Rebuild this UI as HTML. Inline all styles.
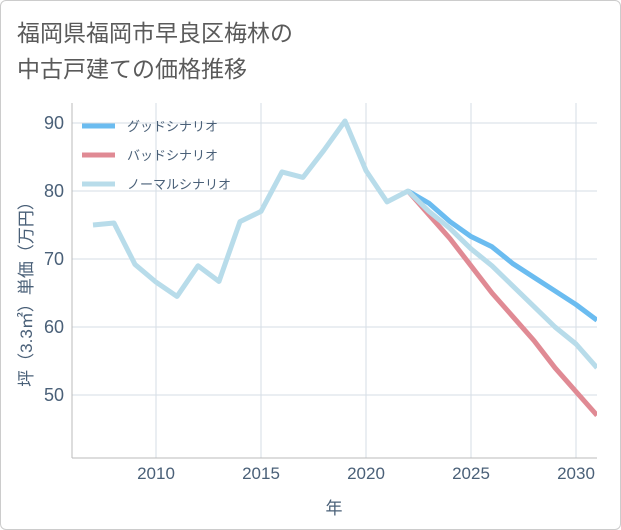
<!DOCTYPE html>
<html><head><meta charset="utf-8"><style>
body{margin:0;background:#fff;font-family:"Liberation Sans","Noto Sans CJK JP",sans-serif;}
#wrap{position:relative;width:619px;height:528px;border:1px solid #ccc;border-radius:6px;overflow:hidden;}
#title{position:absolute;left:16px;top:14px;font-size:23px;line-height:36px;color:#5a5a5a;}
svg text{font-family:"Liberation Sans","Noto Sans CJK JP",sans-serif;}
</style></head><body>
<div id="wrap">
<div id="title">福岡県福岡市早良区梅林の<br>中古戸建ての価格推移</div>
<svg id="chart" width="621" height="530" style="position:absolute;left:-1px;top:-1px"></svg>
</div>
<script>
const years=[2007,2008,2009,2010,2011,2012,2013,2014,2015,2016,2017,2018,2019,2020,2021,2022,2023,2024,2025,2026,2027,2028,2029,2030,2031];
const normalValues=[75,75.3,69.2,66.6,64.5,69,66.7,75.5,77,82.8,82,86,90.3,83,78.4,80,77,74.5,71.5,69,66,63,60,57.5,54];
const futureYears=[2022,2023,2024,2025,2026,2027,2028,2029,2030,2031];
const goodValues=[80,78.2,75.5,73.3,71.8,69.3,67.3,65.3,63.3,61];
const badValues=[80,76.5,73,69,65,61.5,58,54,50.5,47];
const xTicks=[2010,2015,2020,2025,2030];
const yTicks=[50,60,70,80,90];
const legendLabels=["グッドシナリオ","バッドシナリオ","ノーマルシナリオ"];
const legendColors=["#6bbcf0","#e08a94","#b8dcea"];

const svg=document.getElementById('chart');
const NS='http://www.w3.org/2000/svg';
const L=72,R=597,T=103,B=458;
function xs(y){return 156+(y-2010)*21;}
function ys(v){return 123+(90-v)*6.8;}
function mk(tag,attrs,parent){const e=document.createElementNS(NS,tag);for(const k in attrs)e.setAttribute(k,attrs[k]);(parent||svg).appendChild(e);return e;}

xTicks.forEach(t=>{
 const g=mk('line',{x1:xs(t),x2:xs(t),y1:T,y2:B,stroke:'#d5dde5','stroke-width':1});
 
 
 const tx=mk('text',{x:xs(t),y:479,'text-anchor':'middle','font-size':17,fill:'#4a6078'});
 tx.textContent=t;
 
 
});
yTicks.forEach(t=>{
 const g=mk('line',{x1:L,x2:R,y1:ys(t),y2:ys(t),stroke:'#d5dde5','stroke-width':1});
 
 
 const tx=mk('text',{x:64,y:ys(t)+6,'text-anchor':'end','font-size':18,fill:'#4a6078'});
 tx.textContent=t;
 
 
});
const ax=mk('line',{x1:L,x2:L,y1:T,y2:B,stroke:'#bbb'});


const bx=mk('line',{x1:L,x2:R,y1:B,y2:B,stroke:'#bbb'});



const xt=mk('text',{x:334,y:514,'text-anchor':'middle','font-size':17,fill:'#4a6078'});
xt.textContent='年';


const yt=mk('text',{x:0,y:0,'text-anchor':'middle','font-size':17,fill:'#4a6078',transform:'translate(32,290) rotate(-90)'});
yt.textContent='坪（3.3㎡）単価（万円）';



const clip=mk('clipPath',{id:'pc'});
mk('rect',{x:L,y:T,width:R-L,height:B-T},clip);
function line(xsArr,vals,color,name){
 const d=vals.map((v,i)=>(i?'L':'M')+xs(xsArr[i])+','+ys(v)).join(' ');
 const p=mk('path',{d:d,fill:'none',stroke:color,'stroke-width':5,'stroke-linejoin':'round','clip-path':'url(#pc)'});
 
 
}
line(futureYears,goodValues,legendColors[0],'good-scenario-line');
line(futureYears,badValues,legendColors[1],'bad-scenario-line');
line(years,normalValues,legendColors[2],'normal-scenario-line');

legendLabels.forEach((lab,i)=>{
 const y=126+i*29;
 const l=mk('line',{x1:82,x2:115,y1:y,y2:y,stroke:legendColors[i],'stroke-width':5});
 
 
 const t=mk('text',{x:127,y:y+5,'font-size':13,fill:'#4a6078'});
 t.textContent=lab;
 
 
});
</script>
</body></html>
